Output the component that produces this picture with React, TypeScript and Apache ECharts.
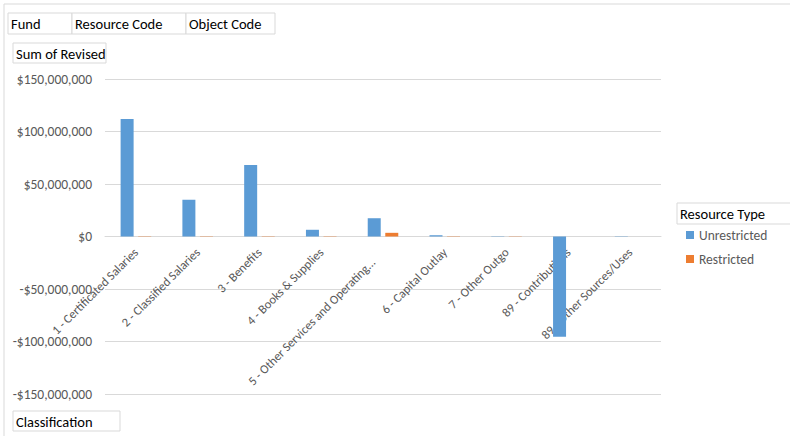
import React, { useEffect, useRef } from "react";
import * as echarts from "echarts";

const categories = [
  "1 - Certificated Salaries",
  "2 - Classified Salaries",
  "3 - Benefits",
  "4 - Books & Supplies",
  "5 - Other Services and Operating Expenses",
  "6 - Capital Outlay",
  "7 - Other Outgo",
  "89 - Contributions",
  "89 - Other Sources/Uses",
];
const unrestricted = [112000000, 35000000, 68000000, 6400000, 17400000, 1200000, -300000, -95500000, 300000];
const restricted = [300000, 300000, 300000, 300000, 3500000, 300000, 300000, 0, 0];
const seriesNames = ["Unrestricted", "Restricted"];
const yTicks = { min: -150000000, max: 150000000, interval: 50000000 };

const FONT = "Carlito, 'Open Sans', 'Liberation Sans', sans-serif";

function money(v: number) {
  const s = Math.abs(v).toLocaleString("en-US");
  return (v < 0 ? "-$" : "$") + s;
}

function box(x: number, y: number, w: number, h: number, text: string) {
  return {
    type: "group",
    children: [
      { type: "rect", shape: { x, y, width: w, height: h }, style: { fill: "#fff", stroke: "#d9d9d9", lineWidth: 1 } },
      { type: "text", x: x + 3, y: y + h / 2 + 0.5, style: { text, fill: "#000", font: `14.5px ${FONT}`, verticalAlign: "middle" } },
    ],
  };
}

export default function App() {
  const ref = useRef<HTMLDivElement>(null);
  useEffect(() => {
    const chart = echarts.init(ref.current!, undefined, { renderer: "svg" });
    chart.setOption({
      animation: false,
      backgroundColor: "#fff",
      grid: { left: 105, right: 129, top: 79, bottom: 42, containLabel: false, outerBoundsMode: "none" },
      legend: {
        orient: "vertical",
        left: 681,
        top: 223,
        itemWidth: 8,
        itemHeight: 8,
        itemGap: 10,
        icon: "rect",
        textStyle: { color: "#595959", fontSize: 13.5, fontFamily: FONT },
        data: seriesNames,
      },
      xAxis: {
        type: "category",
        data: categories,
        axisLine: { show: true, onZero: true, lineStyle: { color: "#d9d9d9" } },
        axisTick: { show: false },
        axisLabel: {
          rotate: 45,
          interval: 0,
          color: "#595959",
          fontSize: 12.5,
          fontFamily: FONT,
          margin: -144,
          formatter: (v: string) =>
            v.length > 33 ? "{p|" + v.slice(0, 32) + "...}" : v,
          rich: {
            p: { color: "#595959", fontSize: 12.5, fontFamily: FONT, padding: [0, 14, 0, 0] },
          },
        },
      },
      yAxis: {
        type: "value",
        min: yTicks.min,
        max: yTicks.max,
        interval: yTicks.interval,
        axisLine: { show: false },
        axisTick: { show: false },
        splitLine: { lineStyle: { color: "#d9d9d9" } },
        axisLabel: { color: "#595959", fontSize: 13.5, fontFamily: FONT, margin: 13, formatter: money },
      },
      series: [
        { name: seriesNames[0], type: "bar", data: unrestricted, barWidth: 13, barGap: "35%", itemStyle: { color: "#5b9bd5" } },
        { name: seriesNames[1], type: "bar", data: restricted, barWidth: 13, itemStyle: { color: "#ed7d31" } },
      ],
      graphic: [
        { type: "rect", shape: { x: 4, y: 4, width: 800, height: 440 }, style: { fill: "none", stroke: "#d9d9d9", lineWidth: 1 } },
        box(8, 13, 64, 21, "Fund"),
        box(72, 13, 114, 21, "Resource Code"),
        box(186, 13, 89, 21, "Object Code"),
        box(13, 43, 93, 20, "Sum of Revised"),
        box(13, 411, 107, 20, "Classification"),
        box(677, 203, 120, 21, "Resource Type"),
      ],
    });
    return () => chart.dispose();
  }, []);
  return <div ref={ref} style={{ width: 790, height: 436, position: "absolute", left: 0, top: 0 }} />;
}
